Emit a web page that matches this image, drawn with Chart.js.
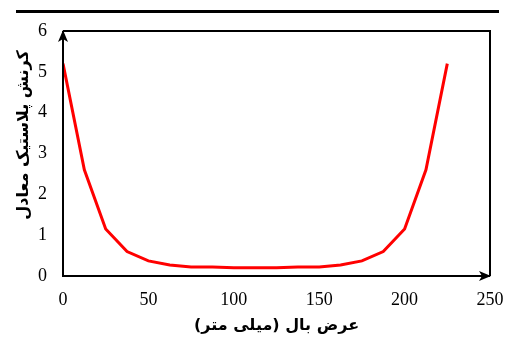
<!DOCTYPE html>
<html>
<head>
<meta charset="utf-8">
<script src="https://cdn.jsdelivr.net/npm/chart.js@4"></script>
<style>
html,body{margin:0;padding:0;background:#fff;}
#wrap{width:506px;height:340px;position:relative;}
</style>
</head>
<body>
<div id="wrap"><canvas id="c" width="506" height="340"></canvas></div>
<script>
const xValues = [0, 12.5, 25, 37.5, 50, 62.5, 75, 87.5, 100, 112.5, 125, 137.5, 150, 162.5, 175, 187.5, 200, 212.5, 225];
const strainValues = [5.2, 2.6, 1.15, 0.6, 0.37, 0.27, 0.22, 0.22, 0.2, 0.2, 0.2, 0.22, 0.22, 0.27, 0.37, 0.6, 1.15, 2.6, 5.2];
const xTicks = [0, 50, 100, 150, 200, 250];
const yTicks = [0, 1, 2, 3, 4, 5, 6];
const xTitle = 'عرض بال (میلی متر)';
const yTitle = 'کرنش پلاستیک معادل';

const points = xValues.map((x, i) => ({x: x, y: strainValues[i]}));
const tickFont = {family: '"Liberation Serif", "Times New Roman", serif', size: 18};
const titleFont = '600 16px "DejaVu Sans", "Liberation Serif", sans-serif';

const decor = {
  id: 'decor',
  afterDraw(chart) {
    const ctx = chart.ctx;
    const a = chart.chartArea;
    ctx.save();
    // top rule
    ctx.fillStyle = '#000';
    ctx.fillRect(16, 10, 483, 3);
    // box lines
    ctx.strokeStyle = '#000';
    ctx.lineWidth = 2;
    ctx.beginPath();
    ctx.moveTo(a.left, a.top);
    ctx.lineTo(a.right, a.top);
    ctx.lineTo(a.right, a.bottom);
    ctx.moveTo(a.left, a.top);
    ctx.lineTo(a.left, a.bottom);
    ctx.lineTo(a.right, a.bottom);
    ctx.stroke();
    // arrow on y axis
    ctx.fillStyle = '#000';
    ctx.beginPath();
    ctx.moveTo(a.left, a.top - 1);
    ctx.lineTo(a.left - 5, a.top + 11);
    ctx.lineTo(a.left, a.top + 8);
    ctx.lineTo(a.left + 5, a.top + 11);
    ctx.closePath();
    ctx.fill();
    // arrow on x axis
    ctx.beginPath();
    ctx.moveTo(a.right + 1, a.bottom);
    ctx.lineTo(a.right - 11, a.bottom - 5);
    ctx.lineTo(a.right - 8, a.bottom);
    ctx.lineTo(a.right - 11, a.bottom + 5);
    ctx.closePath();
    ctx.fill();
    // y title
    ctx.translate(24, 135);
    ctx.rotate(-Math.PI / 2);
    ctx.font = titleFont;
    ctx.textAlign = 'center';
    ctx.textBaseline = 'middle';
    ctx.fillStyle = '#000';
    ctx.fillText(yTitle, 0, 0);
    ctx.restore();
  }
};

new Chart(document.getElementById('c'), {
  type: 'line',
  data: {
    datasets: [{
      data: points,
      borderColor: '#ff0000',
      borderWidth: 3,
      pointRadius: 0,
      tension: 0,
      fill: false
    }]
  },
  options: {
    responsive: false,
    animation: false,
    devicePixelRatio: 1,
    layout: {padding: {left: 0, right: 16, top: 31, bottom: 0}},
    plugins: {legend: {display: false}, tooltip: {enabled: false}},
    scales: {
      x: {
        type: 'linear',
        min: 0, max: 250,
        afterBuildTicks: s => { s.ticks = xTicks.map(v => ({value: v})); },
        afterFit: s => { s.height = 64; s.paddingLeft = 0; s.paddingRight = 0; },
        grid: {display: false, drawTicks: false},
        border: {display: false},
        ticks: {font: tickFont, color: '#000', padding: 13, maxRotation: 0},
        title: {display: true, text: xTitle, color: '#000', font: {family: '"DejaVu Sans", sans-serif', size: 16, weight: '600'}, padding: {top: 0, bottom: 5}}
      },
      y: {
        min: 0, max: 6,
        afterBuildTicks: s => { s.ticks = yTicks.map(v => ({value: v})); },
        afterFit: s => { s.width = 63; s.paddingTop = 0; s.paddingBottom = 0; },
        grid: {display: false, drawTicks: false},
        border: {display: false},
        ticks: {font: tickFont, color: '#000', padding: 16}
      }
    }
  },
  plugins: [decor]
});
</script>
</body>
</html>
